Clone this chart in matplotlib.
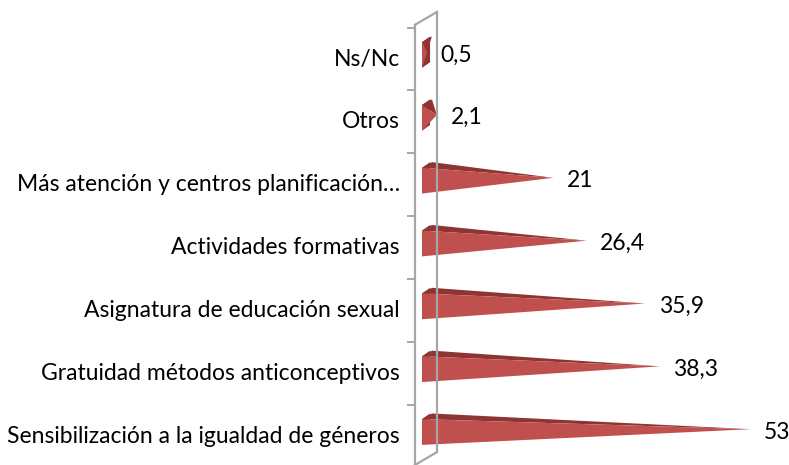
import matplotlib
matplotlib.use("Agg")
import matplotlib.pyplot as plt
from matplotlib.patches import Polygon

# categories from bottom to top, values in %
categories = [
    "Sensibilización a la igualdad de géneros",
    "Gratuidad métodos anticonceptivos",
    "Asignatura de educación sexual",
    "Actividades formativas",
    "Más atención y centros planificación…",
    "Otros",
    "Ns/Nc",
]
values = [53, 38.3, 35.9, 26.4, 21, 2.1, 0.5]

FRONT = "#C0504D"
TOP = "#8E3533"
WALL = "#A6A6A6"


def fmt(v):
    return f"{v:g}".replace(".", ",")


def main():
    plt.rcParams['font.family'] = ['Lato', 'DejaVu Sans']
    fig = plt.figure(figsize=(7.89, 4.65), dpi=100)
    ax = fig.add_axes([0, 0, 1, 1])
    ax.set_xlim(-68.8, 59.25)
    ax.set_ylim(-0.46, 6.94)
    ax.axis("off")

    n = len(categories)

    # 3D wall (floor of the value axis)
    ax.plot([-1.46, -1.46], [-0.46, 6.545], color=WALL, lw=1.6)
    ax.plot([2.11, 2.11], [-0.255, 6.75], color=WALL, lw=1.6)
    ax.plot([-1.46, 2.11], [6.545, 6.75], color=WALL, lw=1.6)
    ax.plot([-1.46, 2.11], [-0.46, -0.255], color=WALL, lw=1.6)
    for i in range(n):
        ax.plot([-2.6, -1.46], [i + 0.5, i + 0.5], color=WALL, lw=1.4)

    for i, (cat, v) in enumerate(zip(categories, values)):
        x0 = -0.3
        apex = (v, i + 0.11)
        base = Polygon([(x0, i - 0.14), (x0, i + 0.27),
                        (x0 + 1.3, i + 0.36), (x0 + 1.3, i - 0.05)],
                       closed=True, facecolor=TOP, edgecolor="none")
        front = Polygon([(x0, i - 0.14), (x0, i + 0.27), apex],
                        closed=True, facecolor=FRONT, edgecolor="none")
        top = Polygon([(x0, i + 0.27), (x0 + 1.6, i + 0.36), apex],
                      closed=True, facecolor=TOP, edgecolor="none")
        ax.add_patch(base)
        ax.add_patch(top)
        ax.add_patch(front)
        ax.text(v + 2.2, i + 0.065, fmt(v), ha="left", va="center",
                fontsize=16.5, color="black")
        ax.text(-3.9, i + 0.0, cat, ha="right", va="center",
                fontsize=16.5, color="black")

    fig.savefig("out.png", dpi=100)


if __name__ == '__main__':
    main()
